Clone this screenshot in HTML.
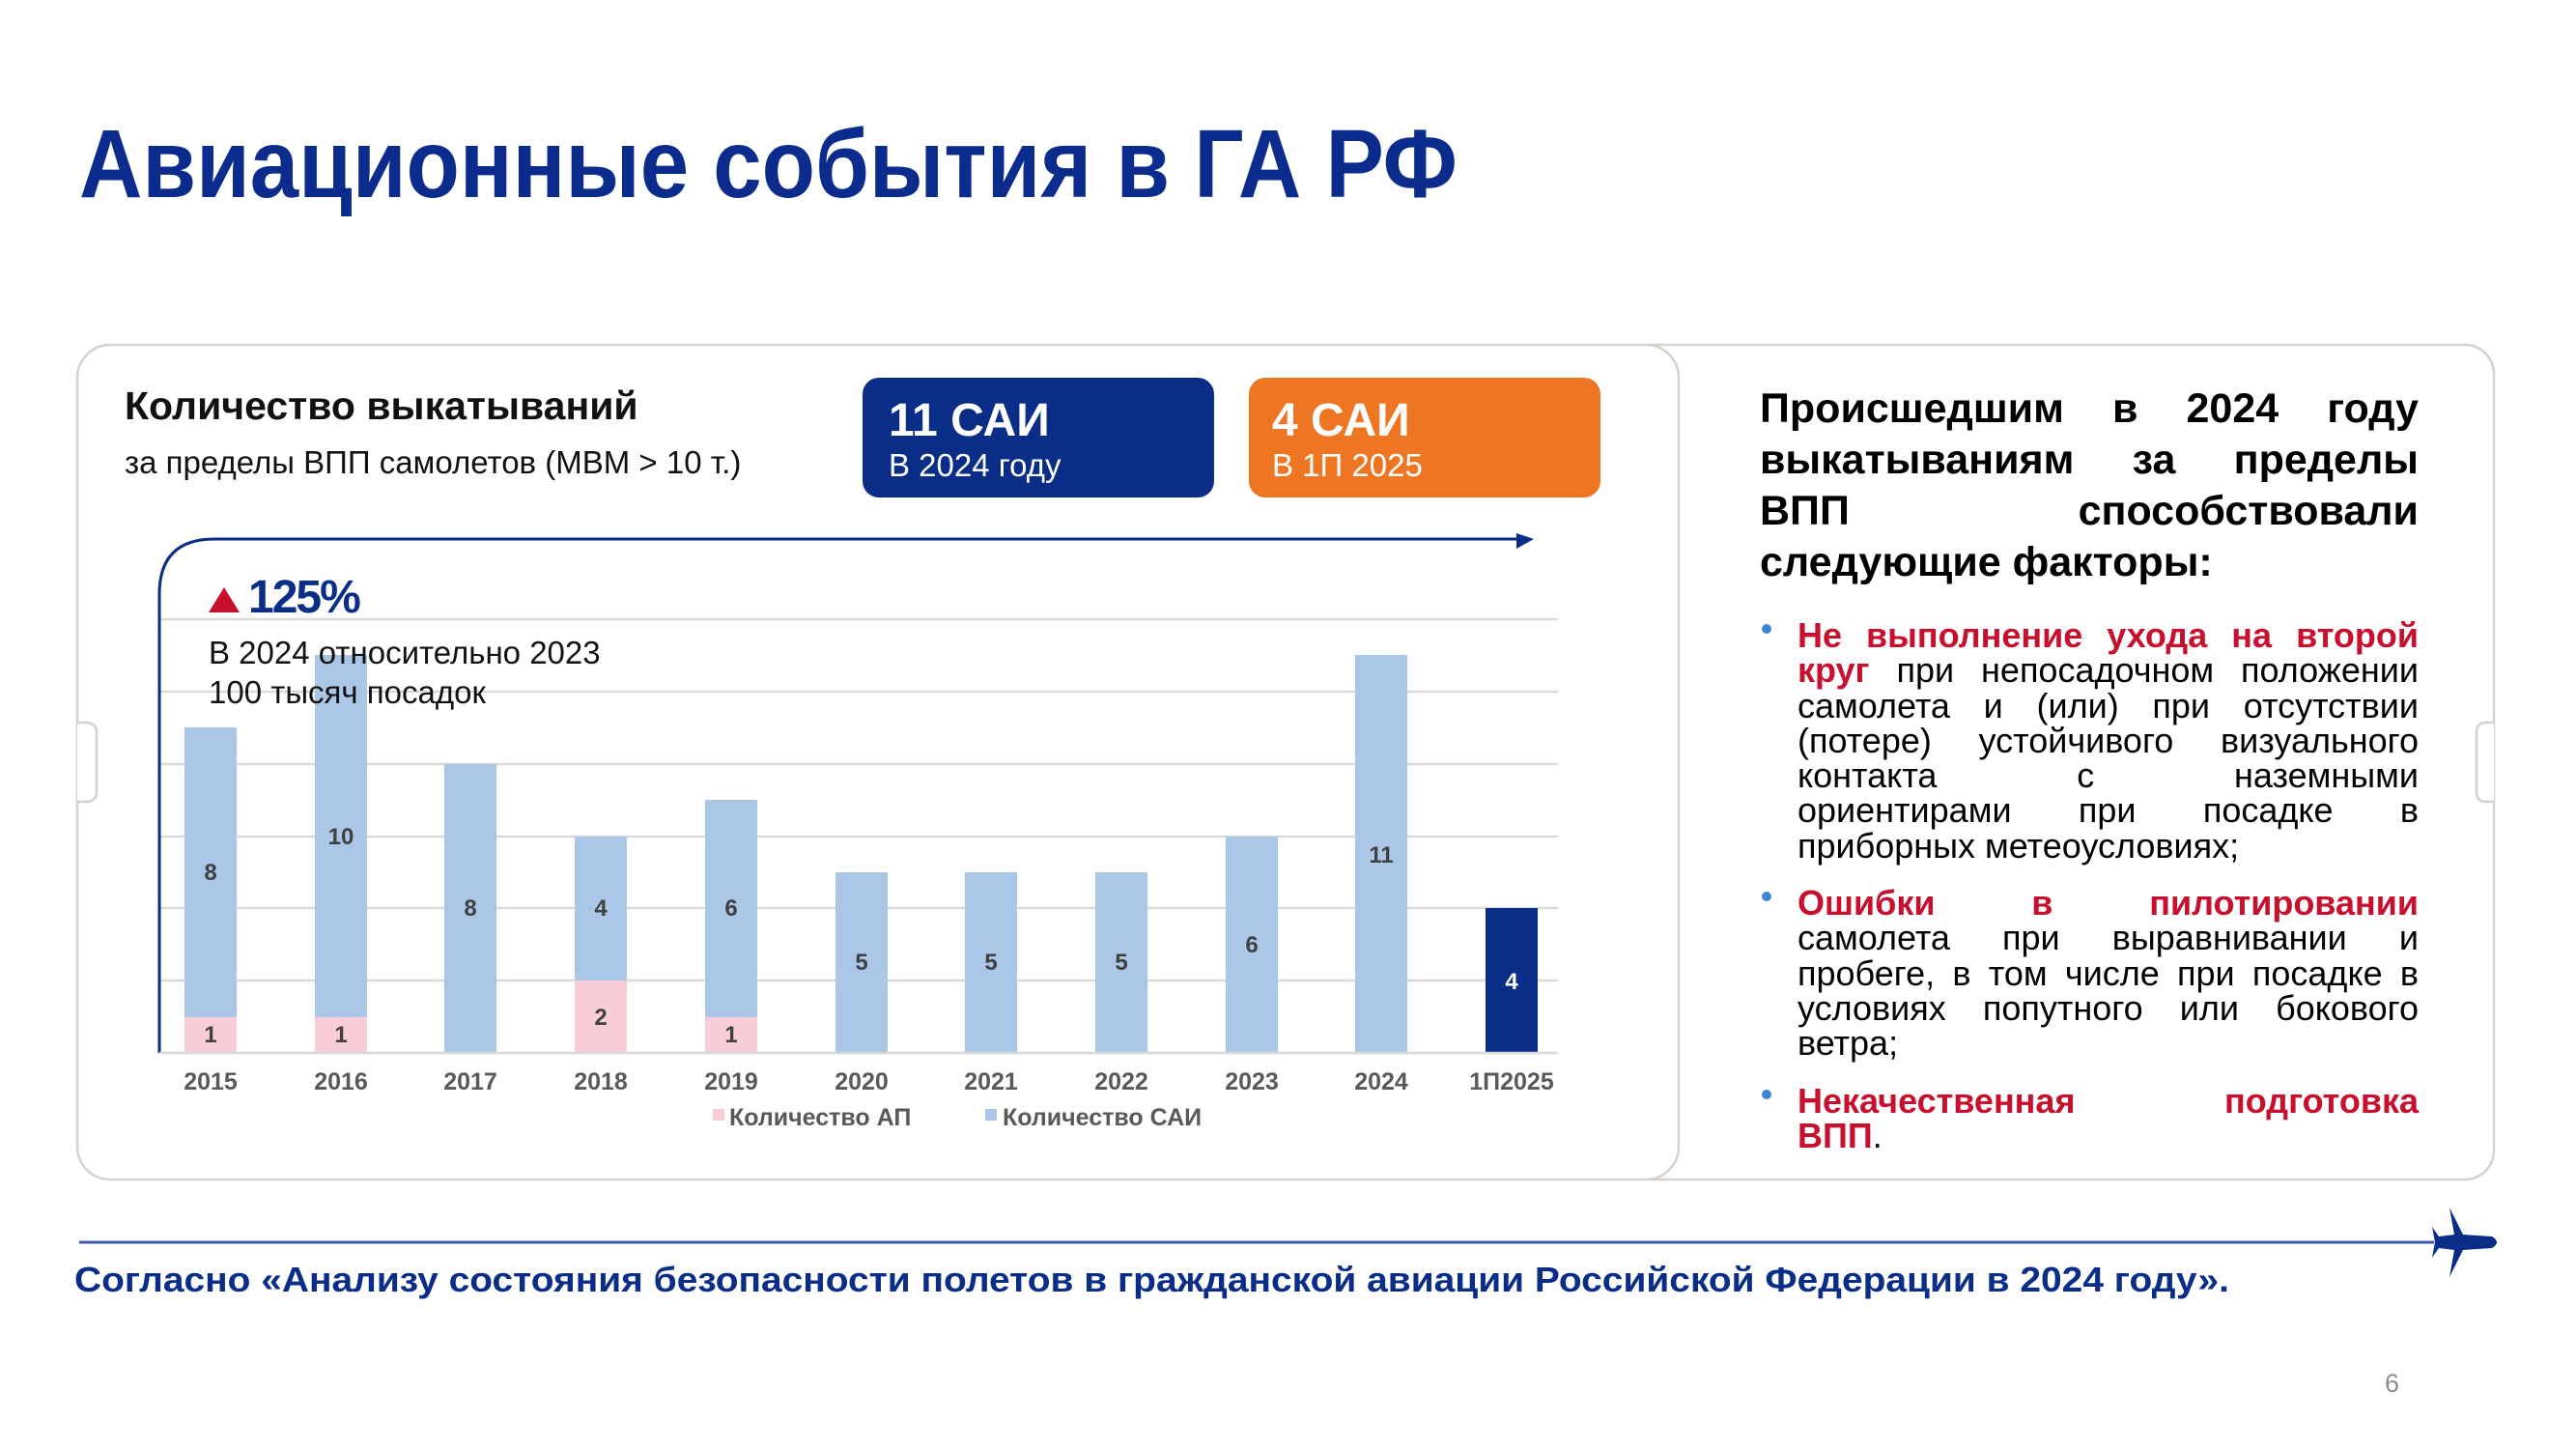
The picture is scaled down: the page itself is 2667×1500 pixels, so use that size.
<!DOCTYPE html>
<html><head><meta charset="utf-8">
<style>
html,body{margin:0;padding:0;background:#fff;}
body{width:2667px;height:1500px;position:relative;overflow:hidden;font-family:"Liberation Sans","DejaVu Sans",sans-serif;}
svg{position:absolute;left:0;top:0;}
.rp{position:absolute;left:1822px;width:682px;color:#000;}
.h{font-weight:bold;font-size:43px;line-height:53px;}
.ln{text-align:justify;text-align-last:justify;white-space:nowrap;}
.ll{text-align:left;white-space:nowrap;}
.b{font-size:36px;line-height:36.3px;}
.b .ln,.b .ll{padding-left:39px;}
.r{color:#c8102e;font-weight:bold;}
.dot{position:absolute;left:2px;width:10px;height:10px;border-radius:50%;background:#3c86d6;}
</style></head><body>
<svg width="2667" height="1500" viewBox="0 0 2667 1500" xmlns="http://www.w3.org/2000/svg" font-family="Liberation Sans, DejaVu Sans, sans-serif">
  <text x="82" y="204" font-size="100" font-weight="bold" fill="#0b2c8c" textLength="1427" lengthAdjust="spacingAndGlyphs">Авиационные события в ГА РФ</text>
  <rect x="1680" y="357" width="902" height="864" rx="30" fill="#fff" stroke="#d6d1cc" stroke-width="2.5"/>
  <path d="M2582 748 h-8 q-10 0 -10 10 v62 q0 10 10 10 h8" fill="#fff" stroke="#d6d1cc" stroke-width="2.5"/>
  <rect x="80" y="357" width="1658" height="864" rx="34" fill="#fff" stroke="#d6d1cc" stroke-width="2.5"/>
  <path d="M80 748 h8 q12 0 12 10 v62 q0 10 -12 10 h-8" fill="#fff" stroke="#d6d1cc" stroke-width="2.5"/>
  <text x="129" y="434" font-size="41" font-weight="bold" fill="#111">Количество выкатываний</text>
  <text x="129" y="490" font-size="33" fill="#111">за пределы ВПП самолетов (МВМ &gt; 10 т.)</text>
  <rect x="893" y="391" width="364" height="124" rx="17" fill="#0a2d87"/>
  <text x="920" y="451" font-size="48" font-weight="bold" fill="#fff">11 САИ</text>
  <text x="920" y="493" font-size="33" fill="#fff">В 2024 году</text>
  <rect x="1293" y="391" width="364" height="124" rx="17" fill="#ee7623"/>
  <text x="1317" y="451" font-size="48" font-weight="bold" fill="#fff">4 САИ</text>
  <text x="1317" y="493" font-size="33" fill="#fff">В 1П 2025</text>
  <g stroke="#d9d9d9" stroke-width="2.5">
    <line x1="165" y1="641" x2="1613" y2="641"/>
    <line x1="165" y1="716" x2="1613" y2="716"/>
    <line x1="165" y1="791" x2="1613" y2="791"/>
    <line x1="165" y1="866" x2="1613" y2="866"/>
    <line x1="165" y1="940" x2="1613" y2="940"/>
    <line x1="165" y1="1015" x2="1613" y2="1015"/>
    <line x1="165" y1="1090" x2="1613" y2="1090"/>
  </g>
  <path d="M165 1090 V615 Q165 558 222 558 H1575" fill="none" stroke="#0a2d87" stroke-width="3"/>
  <path d="M1570 552 L1588 558 L1570 568 Z" fill="#0a2d87"/>
  <g>
    <rect x="191" y="753" width="54" height="300" fill="#abc7e8"/><rect x="191" y="1053" width="54" height="37" fill="#f8cdd6"/>
    <rect x="326" y="678" width="54" height="375" fill="#abc7e8"/><rect x="326" y="1053" width="54" height="37" fill="#f8cdd6"/>
    <rect x="460" y="791" width="54" height="299" fill="#abc7e8"/>
    <rect x="595" y="866" width="54" height="149" fill="#abc7e8"/><rect x="595" y="1015" width="54" height="75" fill="#f8cdd6"/>
    <rect x="730" y="828" width="54" height="225" fill="#abc7e8"/><rect x="730" y="1053" width="54" height="37" fill="#f8cdd6"/>
    <rect x="865" y="903" width="54" height="187" fill="#abc7e8"/>
    <rect x="999" y="903" width="54" height="187" fill="#abc7e8"/>
    <rect x="1134" y="903" width="54" height="187" fill="#abc7e8"/>
    <rect x="1269" y="866" width="54" height="224" fill="#abc7e8"/>
    <rect x="1403" y="678" width="54" height="412" fill="#abc7e8"/>
    <rect x="1538" y="940" width="54" height="150" fill="#0a2d87"/>
  </g>
  <line x1="165" y1="1090" x2="1613" y2="1090" stroke="#d9d9d9" stroke-width="2.5"/>
  <g font-size="24" font-weight="bold" fill="#404040" text-anchor="middle">
    <text x="218" y="1079">1</text><text x="218" y="911">8</text>
    <text x="353" y="1079">1</text><text x="353" y="874">10</text>
    <text x="487" y="948">8</text>
    <text x="622" y="1061">2</text><text x="622" y="948">4</text>
    <text x="757" y="1079">1</text><text x="757" y="948">6</text>
    <text x="892" y="1004">5</text><text x="1026" y="1004">5</text><text x="1161" y="1004">5</text>
    <text x="1296" y="986">6</text><text x="1430" y="893">11</text>
    <text x="1565" y="1024" fill="#fff">4</text>
  </g>
  <g font-size="25" font-weight="bold" fill="#595959" text-anchor="middle">
    <text x="218" y="1128">2015</text><text x="353" y="1128">2016</text><text x="487" y="1128">2017</text>
    <text x="622" y="1128">2018</text><text x="757" y="1128">2019</text><text x="892" y="1128">2020</text>
    <text x="1026" y="1128">2021</text><text x="1161" y="1128">2022</text><text x="1296" y="1128">2023</text>
    <text x="1430" y="1128">2024</text><text x="1565" y="1128">1П2025</text>
  </g>
  <rect x="738" y="1148" width="12" height="12" fill="#f8cdd6"/>
  <text x="755" y="1165" font-size="25" font-weight="bold" fill="#595959">Количество АП</text>
  <rect x="1020" y="1148" width="12" height="12" fill="#abc7e8"/>
  <text x="1038" y="1165" font-size="25" font-weight="bold" fill="#595959">Количество САИ</text>
  <path d="M216 634 L232 608 L248 634 Z" fill="#c8102e"/>
  <text x="257" y="634" font-size="48" font-weight="bold" fill="#0a2d87" letter-spacing="-2">125%</text>
  <text x="216" y="687" font-size="33" fill="#111">В 2024 относительно 2023</text>
  <text x="216" y="728" font-size="33" fill="#111">100 тысяч посадок</text>
  <line x1="82" y1="1286" x2="2520" y2="1286" stroke="#3d5ba8" stroke-width="3"/>
  <g fill="#0a2d87">
    <path d="M2536 1250 L2550 1278 L2580 1280 Q2590 1286 2580 1292 L2550 1294 L2536 1322 L2541 1294 L2525 1292 L2518 1302 L2521 1286 L2518 1270 L2525 1280 L2541 1278 Z"/>
  </g>
  <text x="77" y="1337" font-size="36" font-weight="bold" fill="#0a2d87" textLength="2231" lengthAdjust="spacingAndGlyphs">Согласно «Анализу состояния безопасности полетов в гражданской авиации Российской Федерации в 2024 году».</text>
  <text x="2469" y="1441" font-size="27" fill="#8c8c8c">6</text>
</svg>

<div class="rp h" style="top:397px;">
  <div class="ln">Происшедшим в 2024 году</div>
  <div class="ln">выкатываниям за пределы</div>
  <div class="ln">ВПП способствовали</div>
  <div class="ll">следующие факторы:</div>
</div>

<div class="rp b" style="top:640px;">
  <div class="dot" style="top:6px;"></div>
  <div class="ln r">Не выполнение ухода на второй</div>
  <div class="ln"><span class="r">круг</span> при непосадочном положении</div>
  <div class="ln">самолета и (или) при отсутствии</div>
  <div class="ln">(потере) устойчивого визуального</div>
  <div class="ln">контакта с наземными</div>
  <div class="ln">ориентирами при посадке в</div>
  <div class="ll">приборных метеоусловиях;</div>
</div>

<div class="rp b" style="top:917px;">
  <div class="dot" style="top:6px;"></div>
  <div class="ln r">Ошибки в пилотировании</div>
  <div class="ln">самолета при выравнивании и</div>
  <div class="ln">пробеге, в том числе при посадке в</div>
  <div class="ln">условиях попутного или бокового</div>
  <div class="ll">ветра;</div>
</div>

<div class="rp b" style="top:1122px;">
  <div class="dot" style="top:6px;"></div>
  <div class="ln r">Некачественная подготовка</div>
  <div class="ll"><span class="r">ВПП</span>.</div>
</div>
</body></html>
